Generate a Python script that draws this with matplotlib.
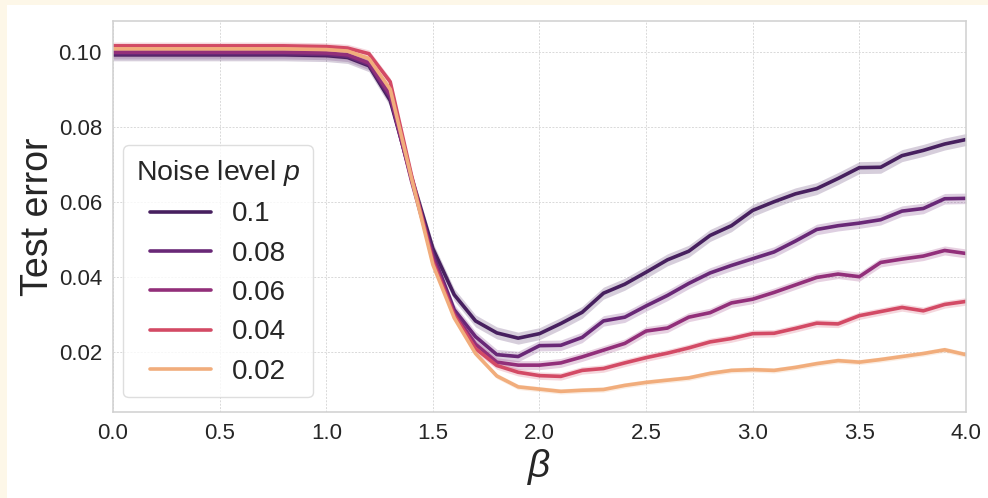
import matplotlib
matplotlib.use("Agg")
import matplotlib.pyplot as plt
from matplotlib.patches import Rectangle
import numpy as np

# beta grid
beta = [0.0, 0.1, 0.2, 0.3, 0.4, 0.5, 0.6, 0.7, 0.8, 0.9, 1.0,
        1.1, 1.2, 1.3, 1.4, 1.5, 1.6, 1.7, 1.8, 1.9, 2.0,
        2.1, 2.2, 2.3, 2.4, 2.5, 2.6, 2.7, 2.8, 2.9, 3.0,
        3.1, 3.2, 3.3, 3.4, 3.5, 3.6, 3.7, 3.8, 3.9, 4.0]

noise_labels = ["0.1", "0.08", "0.06", "0.04", "0.02"]

err_p10 = [0.0992, 0.0992, 0.0992, 0.0992, 0.0992, 0.0992, 0.0992, 0.0992, 0.0992, 0.0991, 0.0990,
           0.0985, 0.0963, 0.0870, 0.0665, 0.0475, 0.0352, 0.0282, 0.0250, 0.0236, 0.0248,
           0.0275, 0.0305, 0.0356, 0.0380, 0.0412, 0.0445, 0.0468, 0.0510, 0.0536, 0.0577,
           0.0600, 0.0621, 0.0635, 0.0662, 0.0691, 0.0692, 0.0723, 0.0737, 0.0754, 0.0766]
err_p08 = [0.0995, 0.0995, 0.0995, 0.0995, 0.0995, 0.0995, 0.0995, 0.0995, 0.0995, 0.0994, 0.0993,
           0.0988, 0.0966, 0.0878, 0.0660, 0.0460, 0.0312, 0.0240, 0.0192, 0.0187, 0.0216,
           0.0217, 0.0238, 0.0282, 0.0292, 0.0322, 0.0350, 0.0382, 0.0410, 0.0430, 0.0448,
           0.0466, 0.0495, 0.0526, 0.0536, 0.0543, 0.0552, 0.0575, 0.0582, 0.0608, 0.0609]
err_p06 = [0.0999, 0.0999, 0.0999, 0.0999, 0.0999, 0.0999, 0.0999, 0.0999, 0.0999, 0.0998, 0.0997,
           0.0992, 0.0970, 0.0885, 0.0655, 0.0450, 0.0302, 0.0220, 0.0172, 0.0164, 0.0164,
           0.0170, 0.0186, 0.0204, 0.0222, 0.0255, 0.0263, 0.0292, 0.0304, 0.0330, 0.0340,
           0.0358, 0.0378, 0.0398, 0.0407, 0.0400, 0.0438, 0.0447, 0.0455, 0.0470, 0.0462]
err_p04 = [0.1016, 0.1016, 0.1016, 0.1016, 0.1016, 0.1016, 0.1016, 0.1016, 0.1016, 0.1015, 0.1014,
           0.1010, 0.0995, 0.0920, 0.0670, 0.0440, 0.0297, 0.0208, 0.0163, 0.0145, 0.0136,
           0.0134, 0.0150, 0.0155, 0.0170, 0.0184, 0.0196, 0.0210, 0.0226, 0.0235, 0.0248,
           0.0249, 0.0262, 0.0276, 0.0274, 0.0296, 0.0307, 0.0318, 0.0309, 0.0326, 0.0334]
err_p02 = [0.1008, 0.1008, 0.1008, 0.1008, 0.1008, 0.1008, 0.1008, 0.1008, 0.1008, 0.1007, 0.1006,
           0.1002, 0.0982, 0.0900, 0.0662, 0.0432, 0.0290, 0.0195, 0.0135, 0.0106, 0.0100,
           0.0094, 0.0097, 0.0099, 0.0110, 0.0118, 0.0124, 0.0130, 0.0142, 0.0150, 0.0152,
           0.0150, 0.0158, 0.0168, 0.0176, 0.0172, 0.0179, 0.0187, 0.0195, 0.0205, 0.0192]

# half-width of the shaded confidence band for each series
ci_halfwidth = [0.0016, 0.0014, 0.0012, 0.0010, 0.0007]

series = [err_p10, err_p08, err_p06, err_p04, err_p02]
colors = ["#47205f", "#692877", "#922f7a", "#d34a65", "#f1ad7c"]

plt.rcParams["font.family"] = ["Liberation Sans", "DejaVu Sans"]
plt.rcParams["mathtext.fontset"] = "custom"
plt.rcParams["mathtext.it"] = "Liberation Sans:italic"
plt.rcParams["mathtext.rm"] = "Liberation Sans"

fig = plt.figure(figsize=(9.88, 4.98), dpi=100, facecolor="#fdf7e8")
# white panel (cream strip shows on top and left)
fig.patches.append(Rectangle((7 / 988, 0), 1, 1 - 5 / 498, transform=fig.transFigure,
                             facecolor="white", edgecolor="none", zorder=-10))
ax = fig.add_axes([0.1144, 0.1727, 0.8633, 0.7857])
ax.set_facecolor("white")

x = np.array(beta)
for vals, hw, col, lab in zip(series, ci_halfwidth, colors, noise_labels):
    y = np.array(vals)
    ax.fill_between(x, y - hw, y + hw, color=col, alpha=0.22, linewidth=0)
    ax.plot(x, y, color=col, lw=2.6, label=lab, solid_capstyle="round")

ax.set_xlim(0, 4)
ax.set_ylim(0.0039, 0.1083)
ax.set_xticks([0.0, 0.5, 1.0, 1.5, 2.0, 2.5, 3.0, 3.5, 4.0])
ax.set_yticks([0.02, 0.04, 0.06, 0.08, 0.10])
ax.set_yticklabels(["0.02", "0.04", "0.06", "0.08", "0.10"])
ax.tick_params(axis="both", labelsize=16, length=0, pad=8, colors="#262626")
ax.grid(True, color="#d9d9d9", linestyle=(0, (2, 1.5)), linewidth=0.7)
ax.set_axisbelow(True)
for s in ax.spines.values():
    s.set_color("#d0d0d0")
    s.set_linewidth(1.1)

ax.set_xlabel(r"$\beta$", fontsize=28, labelpad=2, color="#262626")
ax.set_ylabel("Test error", fontsize=27, labelpad=2, color="#262626")

leg = ax.legend(title=r"Noise level $p$", loc="lower left", bbox_to_anchor=(0.012, 0.038),
                borderaxespad=0, fontsize=20, title_fontsize=20.5, frameon=True,
                fancybox=True, labelspacing=0.48, handlelength=2.2, handletextpad=0.75,
                borderpad=0.45)
leg.get_frame().set_edgecolor("#d6d6d6")
leg.get_frame().set_linewidth(1.0)
for h in leg.get_lines():
    h.set_linewidth(2.6)
for t in leg.get_texts():
    t.set_color("#262626")
leg.get_title().set_color("#262626")

fig.savefig("out.png", dpi=100, facecolor=fig.get_facecolor())
